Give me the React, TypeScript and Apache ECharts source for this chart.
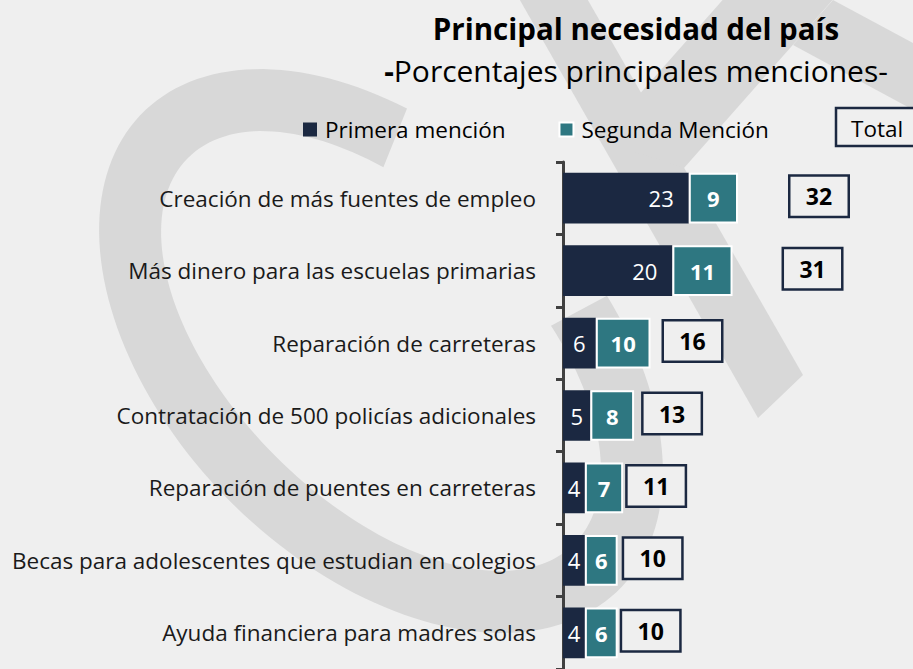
import React, { useEffect, useRef } from "react";
import * as echarts from "echarts";

const categories = [
  "Creación de más fuentes de empleo",
  "Más dinero para las escuelas primarias",
  "Reparación de carreteras",
  "Contratación de 500 policías adicionales",
  "Reparación de puentes en carreteras",
  "Becas para adolescentes que estudian en colegios",
  "Ayuda financiera para madres solas",
];
const primera = [23, 20, 6, 5, 4, 4, 4];
const segunda = [9, 11, 10, 8, 7, 6, 6];
const total = [32, 31, 16, 13, 11, 10, 10];

// styling: horizontal gap (px) between stacked bar end and total box
const totalBoxGap = [50, 49, 11, 7, 2, 4, 2];
const BOX_W = 61;

const NAVY = "#1b2841";
const TEAL = "#2e7781";
const BG = "#efefef";
const WM = "#d8d8d8";
const FONT = "'Open Sans', 'Noto Sans', sans-serif";

function ringPolygon() {
  const cx = 381, cy = 351, rot = Math.PI / 4;
  const ao = 337, bo = 213, ai = 273, bi = 149;
  const pt = (a: number, b: number, deg: number) => {
    const t = (deg * Math.PI) / 180;
    const ct = Math.cos(t), st = Math.sin(t);
    return [
      cx + a * ct * Math.cos(rot) - b * st * Math.sin(rot),
      cy + a * ct * Math.sin(rot) + b * st * Math.cos(rot),
    ];
  };
  const pts: number[][] = [];
  for (let d = -69; d <= 244; d += 2) pts.push(pt(ao, bo, d));
  for (let d = 242; d >= -69; d -= 2) pts.push(pt(ai, bi, d));
  return pts;
}

export default function App() {
  const ref = useRef<HTMLDivElement>(null);
  useEffect(() => {
    if (!ref.current) return;
    const chart = echarts.init(ref.current, undefined, { renderer: "svg" });
    const option: any = {
      animation: false,
      backgroundColor: BG,
      textStyle: { fontFamily: FONT },
      title: [
        {
          text: "Principal necesidad del país",
          left: 636,
          top: 13,
          padding: 0,
          textAlign: "center",
          textStyle: { fontSize: 29.5, fontWeight: "bold", color: "#000", fontFamily: FONT },
        },
        {
          text: "{b|-}Porcentajes principales menciones-",
          left: 636,
          top: 55,
          padding: 0,
          textAlign: "center",
          textStyle: {
            fontSize: 30,
            fontWeight: "normal",
            color: "#000",
            fontFamily: FONT,
            rich: { b: { fontSize: 30, fontWeight: "bold", color: "#000", fontFamily: FONT } },
          },
        },
      ],
      legend: {
        data: ["Primera mención", "Segunda Mención"],
        left: 303,
        top: 118,
        padding: 0,
        itemWidth: 14,
        itemHeight: 14,
        itemGap: 53,
        icon: "rect",
        textStyle: { fontSize: 22.5, color: "#000", fontFamily: FONT, padding: [0, 0, 0, 3] },
      },
      graphic: [
        { type: "polygon", z: -10, shape: { points: ringPolygon() }, style: { fill: WM } },
        {
          type: "polygon",
          z: -10,
          shape: { points: [[517, -5], [585, -5], [803, 375], [758, 418]] },
          style: { fill: WM },
        },
        {
          type: "polygon",
          z: -10,
          shape: { points: [[727, -5], [837, -5], [684, 168], [599, 140]] },
          style: { fill: WM },
        },
        {
          type: "polygon",
          z: -10,
          shape: { points: [[833, 0], [930, 52], [930, 119], [793, 45]] },
          style: { fill: WM },
        },
        {
          type: "rect",
          shape: { x: 836, y: 108, width: 90, height: 38 },
          style: { fill: BG, stroke: NAVY, lineWidth: 2.5 },
        },
        {
          type: "text",
          x: 851,
          y: 128,
          style: {
            text: "Total",
            fontSize: 22.5,
            fontFamily: FONT,
            fill: "#000",
            verticalAlign: "middle",
            align: "left",
          },
        },
      ],
      grid: { left: 563, top: 162, width: 350, height: 510, containLabel: false },
      xAxis: {
        type: "value",
        min: 0,
        max: 64,
        show: false,
        splitLine: { show: false },
      },
      yAxis: {
        type: "category",
        inverse: true,
        data: categories,
        axisLine: { show: true, lineStyle: { color: "#404040", width: 3 } },
        axisTick: { show: true, length: 7, lineStyle: { color: "#404040", width: 3 } },
        axisLabel: { fontSize: 22.5, color: "#1a1a1a", margin: 27, fontFamily: FONT },
      },
      series: [
        {
          name: "Primera mención",
          type: "bar",
          stack: "t",
          barWidth: "70%",
          itemStyle: { color: NAVY },
          data: primera.map((v) => ({
            value: v,
            label:
              v >= 10
                ? { position: "insideRight", distance: 15 }
                : { position: "inside" },
          })),
          label: {
            show: true,
            color: "#fff",
            fontSize: 22,
            fontFamily: FONT,
            fontWeight: "normal",
          },
        },
        {
          name: "Segunda Mención",
          type: "bar",
          stack: "t",
          barWidth: "70%",
          itemStyle: { color: TEAL, borderColor: "#fff", borderWidth: 2 },
          data: segunda,
          label: {
            show: true,
            position: "inside",
            color: "#fff",
            fontSize: 22,
            fontFamily: FONT,
            fontWeight: "bold",
          },
        },
        {
          name: "Total",
          type: "scatter",
          symbolSize: 1,
          itemStyle: { color: "rgba(0,0,0,0)", opacity: 1 },
          z: 5,
          data: total.map((v, i) => ({
            value: [v, i],
            label: { distance: totalBoxGap[i] + BOX_W / 2 },
          })),
          label: {
            show: true,
            position: "right",
            offset: [0, -2],
            formatter: (p: any) => String(p.value[0]),
            fontSize: 23,
            fontWeight: "bold",
            color: "#000",
            opacity: 1,
            fontFamily: FONT,
            width: BOX_W - 4,
            height: 39,
            lineHeight: 39,
            align: "center",
            verticalAlign: "middle",
            borderColor: NAVY,
            borderWidth: 2.5,
            backgroundColor: BG,
          },
        },
      ],
    };
    chart.setOption(option);
    return () => chart.dispose();
  }, []);
  return (
    <div
      ref={ref}
      style={{ position: "absolute", left: 0, top: 0, width: 913, height: 669 }}
    />
  );
}
